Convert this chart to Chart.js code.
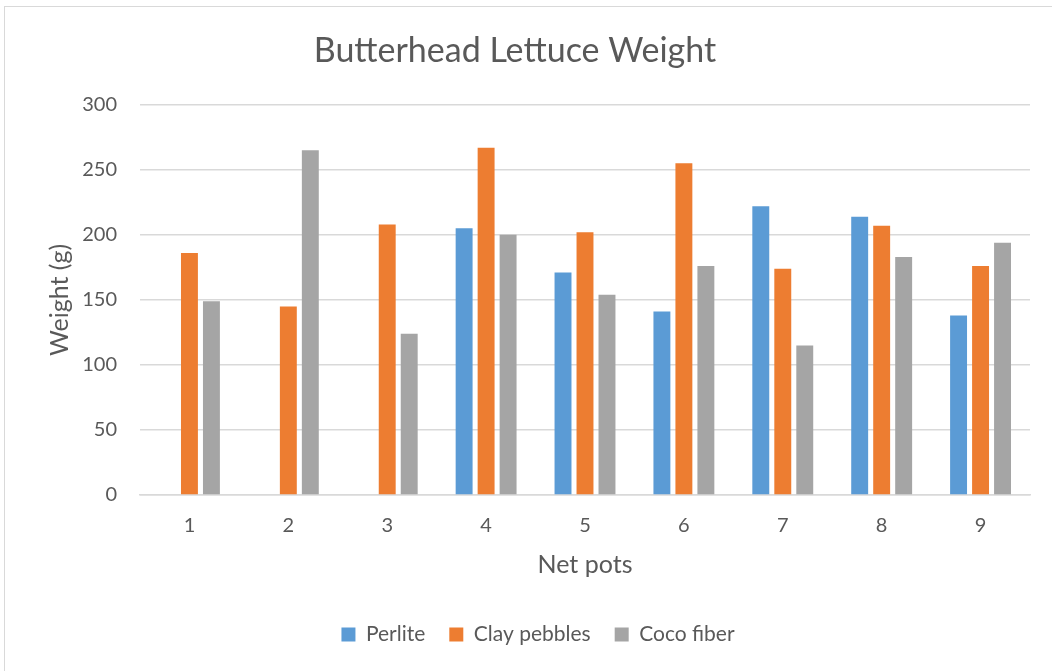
<!DOCTYPE html>
<html>
<head>
<meta charset="utf-8">
<title>Butterhead Lettuce Weight</title>
<script src="https://cdn.jsdelivr.net/npm/chart.js@4/dist/chart.umd.min.js"></script>
<style>
    html, body { margin: 0; padding: 0; background: #fff; }
    #frame {
        position: absolute;
        left: 4px; top: 6px;
        width: 1060px; height: 680px;
        border: 1px solid #d9d9d9;
        box-sizing: border-box;
    }
    #wrap { position: absolute; left: 0; top: 0; width: 1052px; height: 671px; }
</style>
</head>
<body>
<div id="frame"></div>
<div id="wrap"><canvas id="weightChart"></canvas></div>
<script>
// Peso da alface por vaso e substrato
const pots = ['1', '2', '3', '4', '5', '6', '7', '8', '9'];
const perlite = [null, null, null, 205, 171, 141, 222, 214, 138];
const clayPebbles = [186, 145, 208, 267, 202, 255, 174, 207, 176];
const cocoFiber = [149, 265, 124, 200, 154, 176, 115, 183, 194];

const textColor = '#595959';
const gridColor = '#d9d9d9';
const fontFamily = 'Lato, "Open Sans", sans-serif';

function makeDataset(label, values, color) {
    return {
        label: label,
        data: values,
        backgroundColor: color,
        borderWidth: 0,
        categoryPercentage: 0.667,
        barPercentage: 0.77
    };
}

// Desloca a legenda um pouco para a direita depois do layout
const legendShift = {
    id: 'legendShift',
    afterLayout(chart) {
        const legend = chart.legend;
        if (!legend) return;
        legend.left += 23;
        legend.right += 23;
    }
};

const ctx = document.getElementById('weightChart');

new Chart(ctx, {
    type: 'bar',
    data: {
        labels: pots,
        datasets: [
            makeDataset('Perlite', perlite, '#5b9bd5'),
            makeDataset('Clay pebbles', clayPebbles, '#ed7d31'),
            makeDataset('Coco fiber', cocoFiber, '#a5a5a5')
        ]
    },
    plugins: [legendShift],
    options: {
        responsive: true,
        maintainAspectRatio: false,
        animation: false,
        layout: {
            padding: { left: 0, right: 22, top: 0, bottom: 16 }
        },
        plugins: {
            title: {
                display: true,
                text: 'Butterhead Lettuce Weight',
                color: textColor,
                font: { family: fontFamily, size: 34, weight: 'normal' },
                padding: { top: 31, bottom: 33 }
            },
            legend: {
                position: 'bottom',
                labels: {
                    color: textColor,
                    font: { family: fontFamily, size: 21 },
                    boxWidth: 14,
                    boxHeight: 14,
                    padding: 24
                }
            },
            tooltip: { enabled: false }
        },
        scales: {
            x: {
                grid: { display: false, drawTicks: false },
                border: { color: gridColor, width: 1.5 },
                ticks: {
                    color: textColor,
                    font: { family: fontFamily, size: 20 },
                    padding: 19
                },
                title: {
                    display: true,
                    text: 'Net pots',
                    color: textColor,
                    font: { family: fontFamily, size: 25 },
                    // o padding dos ticks conta em dobro na altura do eixo
                    padding: { top: -7, bottom: 20 }
                }
            },
            y: {
                min: 0,
                max: 300,
                ticks: {
                    stepSize: 50,
                    color: textColor,
                    font: { family: fontFamily, size: 20 },
                    padding: 23
                },
                grid: {
                    color: gridColor,
                    lineWidth: 1.5,
                    drawTicks: false
                },
                border: { display: false },
                title: {
                    display: true,
                    text: 'Weight (g)',
                    color: textColor,
                    font: { family: fontFamily, size: 25 },
                    padding: { top: 45, bottom: 0 }
                },
                afterFit: (scale) => { scale.width = 140; }
            }
        }
    }
});
</script>
</body>
</html>
